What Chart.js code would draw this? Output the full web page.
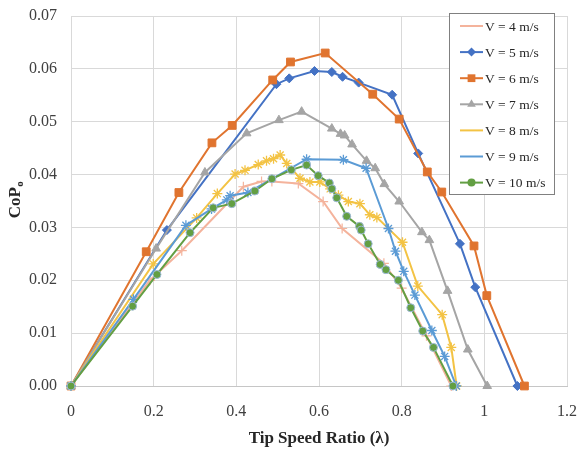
<!DOCTYPE html>
<html>
<head>
<meta charset="utf-8">
<script src="https://cdn.jsdelivr.net/npm/chart.js@4.4.0/dist/chart.umd.min.js"></script>
<style>
html, body { margin: 0; padding: 0; background: #fff; }
#wrap { width: 577px; height: 450px; }
</style>
</head>
<body>
<div id="wrap"><canvas id="copChart" width="577" height="450"></canvas></div>
<script>
// tip speed ratio / power coefficient
var tsr4 = [0, 0.191, 0.268, 0.417, 0.461, 0.486, 0.550, 0.610, 0.656, 0.757, 0.800, 0.860, 0.920];
var cop4 = [0, 0.0200, 0.0256, 0.0377, 0.0387, 0.0387, 0.0383, 0.0349, 0.0298, 0.0232, 0.0185, 0.0095, 0];

var tsr5 = [0, 0.232, 0.497, 0.528, 0.589, 0.631, 0.657, 0.696, 0.777, 0.840, 0.941, 0.978, 1.080];
var cop5 = [0, 0.0295, 0.0571, 0.0582, 0.0596, 0.0594, 0.0585, 0.0574, 0.0551, 0.0440, 0.0269, 0.0187, 0];

var tsr6 = [0, 0.182, 0.261, 0.341, 0.390, 0.488, 0.531, 0.615, 0.730, 0.794, 0.862, 0.897, 0.975, 1.006, 1.097];
var cop6 = [0, 0.0254, 0.0366, 0.0460, 0.0493, 0.0579, 0.0613, 0.0630, 0.0552, 0.0505, 0.0405, 0.0367, 0.0265, 0.0171, 0];

var tsr7 = [0, 0.206, 0.324, 0.425, 0.503, 0.558, 0.631, 0.652, 0.662, 0.680, 0.715, 0.736, 0.758, 0.794, 0.849, 0.867, 0.911, 0.960, 1.007];
var cop7 = [0, 0.0260, 0.0404, 0.0478, 0.0503, 0.0519, 0.0487, 0.0477, 0.0474, 0.0457, 0.0426, 0.0412, 0.0382, 0.0349, 0.0291, 0.0276, 0.0180, 0.0069, 0];

var tsr8 = [0, 0.199, 0.304, 0.354, 0.397, 0.421, 0.453, 0.473, 0.490, 0.506, 0.522, 0.554, 0.578, 0.602, 0.627, 0.647, 0.671, 0.699, 0.723, 0.740, 0.802, 0.839, 0.898, 0.920, 0.933];
var cop8 = [0, 0.0231, 0.0318, 0.0364, 0.0401, 0.0408, 0.0419, 0.0426, 0.0430, 0.0437, 0.0421, 0.0393, 0.0386, 0.0386, 0.0373, 0.0361, 0.0349, 0.0345, 0.0324, 0.0319, 0.0272, 0.0189, 0.0135, 0.0073, 0];

var tsr9 = [0, 0.151, 0.278, 0.340, 0.377, 0.385, 0.428, 0.570, 0.659, 0.714, 0.768, 0.785, 0.805, 0.832, 0.873, 0.904, 0.932];
var cop9 = [0, 0.0164, 0.0304, 0.0335, 0.0352, 0.0360, 0.0366, 0.0429, 0.0428, 0.0412, 0.0298, 0.0255, 0.0217, 0.0172, 0.0105, 0.0056, 0];

var tsr10 = [0, 0.149, 0.208, 0.288, 0.344, 0.389, 0.445, 0.486, 0.533, 0.570, 0.598, 0.625, 0.631, 0.643, 0.667, 0.698, 0.702, 0.719, 0.748, 0.762, 0.792, 0.822, 0.851, 0.877, 0.924];
var cop10 = [0, 0.0151, 0.0211, 0.0290, 0.0337, 0.0345, 0.0369, 0.0392, 0.0409, 0.0418, 0.0398, 0.0384, 0.0373, 0.0356, 0.0321, 0.0302, 0.0295, 0.0269, 0.0230, 0.0220, 0.0200, 0.0148, 0.0104, 0.0073, 0];

var seriesLabels = ['V = 4 m/s', 'V = 5 m/s', 'V = 6 m/s', 'V = 7 m/s', 'V = 8 m/s', 'V = 9 m/s', 'V = 10 m/s'];
var xTicks = [0, 0.2, 0.4, 0.6, 0.8, 1, 1.2];
var yTicks = [0, 0.01, 0.02, 0.03, 0.04, 0.05, 0.06, 0.07];

var serif = "'Liberation Serif', 'Times New Roman', serif";

function pts(xs, ys) {
	return xs.map(function (x, i) { return { x: x, y: ys[i] }; });
}

var styles = [
	{ color: '#F4B39C', point: 'cross', r: 5, bw: 1.2 },
	{ color: '#4472C4', point: 'rectRot', r: 4.5, bw: 1 },
	{ color: '#E0742F', point: 'rect', r: 5.5, bw: 1 },
	{ color: '#A5A5A5', point: 'triangle', r: 5, bw: 1 },
	{ color: '#F3C344', point: 'star', r: 5, bw: 1.3 },
	{ color: '#5B9BD5', point: 'star', r: 5, bw: 1.3 },
	{ color: '#639F43', point: 'circle', r: 4, bw: 1, border: '#9DB8D9' }
];

var allData = [pts(tsr4, cop4), pts(tsr5, cop5), pts(tsr6, cop6), pts(tsr7, cop7),
	pts(tsr8, cop8), pts(tsr9, cop9), pts(tsr10, cop10)];

var datasets = allData.map(function (d, i) {
	var s = styles[i];
	return {
		label: seriesLabels[i],
		data: d,
		borderColor: s.color,
		backgroundColor: s.color,
		borderWidth: 2,
		pointStyle: s.point,
		pointRadius: s.r,
		pointBorderWidth: s.bw,
		pointBorderColor: s.border || s.color,
		pointBackgroundColor: s.color,
		tension: 0,
		clip: false,
		order: 6 - i
	};
});

// legend box inside the plot + y title with subscript
var extras = {
	id: 'extras',
	afterDraw: function (chart) {
		var ctx = chart.ctx;
		ctx.save();
		// y axis title
		ctx.translate(14, 200);
		ctx.rotate(-Math.PI / 2);
		ctx.fillStyle = '#262626';
		ctx.textBaseline = 'alphabetic';
		ctx.font = 'bold 17px ' + serif;
		var w1 = ctx.measureText('CoP').width;
		ctx.font = 'bold 11px ' + serif;
		var w2 = ctx.measureText('o').width;
		var sx = -(w1 + w2) / 2;
		ctx.font = 'bold 17px ' + serif;
		ctx.fillText('CoP', sx, 5.5);
		ctx.font = 'bold 11px ' + serif;
		ctx.fillText('o', sx + w1 + 0.5, 8.5);
		ctx.restore();

		ctx.save();
		ctx.fillStyle = '#ffffff';
		ctx.strokeStyle = '#808080';
		ctx.lineWidth = 1;
		ctx.fillRect(449.5, 13.5, 105, 181);
		ctx.strokeRect(449.5, 13.5, 105, 181);
		ctx.font = '13.5px ' + serif;
		ctx.textBaseline = 'middle';
		ctx.textAlign = 'left';
		for (var i = 0; i < seriesLabels.length; i++) {
			var s = styles[i];
			var y = 26 + i * 26.1;
			ctx.strokeStyle = s.color;
			ctx.lineWidth = 2;
			ctx.beginPath();
			ctx.moveTo(460, y);
			ctx.lineTo(483, y);
			ctx.stroke();
			ctx.fillStyle = s.color;
			ctx.strokeStyle = s.border || s.color;
			ctx.lineWidth = s.bw;
			Chart.helpers.drawPoint(ctx, { pointStyle: s.point, radius: s.r, rotation: 0 }, 471.5, y);
			ctx.fillStyle = '#262626';
			ctx.fillText(seriesLabels[i], 485, y + 1);
		}
		ctx.restore();
	}
};

var context = document.getElementById('copChart').getContext('2d');
var copChart = new Chart(context, {
	type: 'line',
	data: { datasets: datasets },
	plugins: [extras],
	options: {
		responsive: false,
		animation: false,
		devicePixelRatio: 1,
		layout: { padding: { top: 16, right: 10, left: 0, bottom: 0 } },
		plugins: {
			legend: { display: false },
			tooltip: { enabled: false }
		},
		scales: {
			x: {
				type: 'linear',
				min: 0,
				max: 1.2,
				afterBuildTicks: function (scale) {
					scale.ticks = xTicks.map(function (v) { return { value: v }; });
				},
				afterFit: function (scale) { scale.height = 64; },
				ticks: {
					color: '#404040',
					padding: 0,
					font: { family: serif, size: 16 },
					callback: function (v) { return String(Math.round(v * 10) / 10); }
				},
				// invisible tick marks stand in for label spacing
				grid: { color: '#d9d9d9', drawTicks: true, tickLength: 16, tickColor: 'rgba(0,0,0,0)' },
				border: { color: '#c6c6c6', width: 1 },
				title: {
					display: true,
					text: 'Tip Speed Ratio (λ)',
					color: '#262626',
					font: { family: serif, size: 17, weight: 'bold' },
					padding: { top: 0, bottom: 1 }
				}
			},
			y: {
				min: 0,
				max: 0.07,
				afterBuildTicks: function (scale) {
					scale.ticks = yTicks.map(function (v) { return { value: v }; });
				},
				afterFit: function (scale) { scale.width = 71; },
				ticks: {
					color: '#404040',
					padding: 0,
					font: { family: serif, size: 16 },
					callback: function (v) { return v.toFixed(2); }
				},
				grid: { color: '#d9d9d9', drawTicks: true, tickLength: 14, tickColor: 'rgba(0,0,0,0)' },
				border: { color: '#d9d9d9' }
			}
		}
	}
});
</script>
</body>
</html>
